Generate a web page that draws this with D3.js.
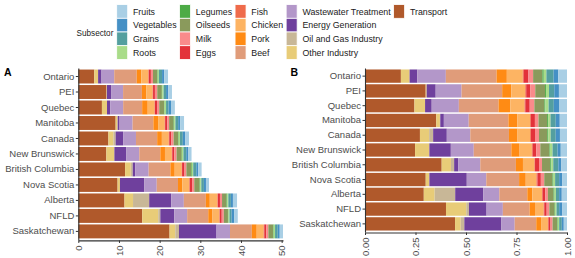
<!DOCTYPE html>
<html lang="en">
<head>
<meta charset="UTF-8">
<title>Emissions by subsector and province</title>
<style>
  body { margin: 0; padding: 0; background: #fff; }
  svg text { font-family: "Liberation Sans", Arial, sans-serif; }
</style>
</head>
<body>
<div id="chart"></div>
<script src="https://d3js.org/d3.v7.min.js"></script>
<script>
// provinces, top to bottom (sorted by total)
const provinces = ["Ontario", "PEI", "Quebec", "Manitoba", "Canada", "New Brunswick",
  "British Columbia", "Nova Scotia", "Alberta", "NFLD", "Saskatchewan"];

// one value per province, same order as above
const transport   = [3.92, 6.92, 5.81, 9.18, 7.40, 6.90, 11.51, 9.66, 11.36, 15.72, 22.44];
const otherInd    = [0.95, 0.11, 1.25, 0.46, 1.24, 1.97, 1.39, 0.58, 2.10, 3.94, 1.41];
const oilGas      = [0.00, 0.00, 0.00, 0.05, 0.54, 0.00, 0.48, 0.00, 3.97, 0.51, 0.90];
const energyGen   = [0.84, 1.03, 0.78, 0.46, 1.84, 2.96, 0.60, 5.95, 5.41, 3.43, 9.24];
const wastewater  = [3.12, 2.95, 3.19, 3.20, 3.16, 3.16, 3.32, 3.10, 3.11, 3.16, 3.31];
const beef        = [5.54, 4.63, 4.67, 5.11, 5.21, 5.18, 5.35, 5.22, 5.41, 5.19, 5.37];
const pork        = [1.12, 1.05, 1.37, 1.16, 1.16, 1.14, 1.06, 1.06, 0.97, 1.05, 1.20];
const chicken     = [1.74, 1.58, 1.68, 1.63, 1.70, 1.69, 1.72, 1.70, 1.87, 1.68, 1.71];
const fish        = [0.11, 0.11, 0.09, 0.10, 0.11, 0.11, 0.09, 0.16, 0.12, 0.12, 0.15];
const eggs        = [0.51, 0.46, 0.52, 0.52, 0.54, 0.50, 0.60, 0.54, 0.51, 0.47, 0.50];
const milk        = [0.51, 0.57, 0.54, 0.46, 0.54, 0.55, 0.45, 0.54, 0.51, 0.51, 0.50];
const oilseeds    = [1.01, 1.12, 1.18, 1.11, 1.11, 1.25, 1.24, 1.31, 1.09, 1.01, 1.15];
const legumes     = [0.15, 0.11, 0.12, 0.13, 0.14, 0.08, 0.15, 0.16, 0.19, 0.12, 0.15];
const roots       = [0.29, 0.34, 0.38, 0.31, 0.32, 0.36, 0.30, 0.26, 0.27, 0.27, 0.35];
const grains      = [0.79, 0.60, 0.61, 0.67, 0.68, 0.69, 0.76, 0.64, 0.62, 0.51, 0.65];
const vegetables  = [0.51, 0.53, 0.61, 0.52, 0.57, 0.44, 0.45, 0.51, 0.51, 0.62, 0.50];
const fruits      = [0.95, 0.92, 0.94, 0.93, 0.95, 0.86, 0.85, 0.74, 1.01, 0.90, 0.80];

// stacking order, left to right
const series = [
  ["Transport", transport], ["Other Industry", otherInd], ["Oil and Gas Industry", oilGas],
  ["Energy Generation", energyGen], ["Wastewater Treatment", wastewater], ["Beef", beef],
  ["Pork", pork], ["Chicken", chicken], ["Fish", fish], ["Eggs", eggs], ["Milk", milk],
  ["Oilseeds", oilseeds], ["Legumes", legumes], ["Roots", roots], ["Grains", grains],
  ["Vegetables", vegetables], ["Fruits", fruits]
];

const colors = {
  "Fruits": "#a9cfe5", "Vegetables": "#4590c5", "Grains": "#549f9f", "Roots": "#a9dc89",
  "Legumes": "#4dab46", "Oilseeds": "#8a9a5c", "Milk": "#f98b8b", "Eggs": "#e3323a",
  "Fish": "#ef6b4b", "Chicken": "#fdb463", "Pork": "#ff8b14", "Beef": "#e09c7a",
  "Wastewater Treatment": "#b397c9", "Energy Generation": "#6f409d",
  "Oil and Gas Industry": "#c8b797", "Other Industry": "#e8cc78", "Transport": "#b0592b"
};

// legend columns as in the figure
const legendCols = [
  ["Fruits", "Vegetables", "Grains", "Roots"],
  ["Legumes", "Oilseeds", "Milk", "Eggs"],
  ["Fish", "Chicken", "Pork", "Beef"],
  ["Wastewater Treatment", "Energy Generation", "Oil and Gas Industry", "Other Industry"],
  ["Transport"]
];

const ticksA = [0, 10, 20, 30, 40, 50];
const ticksB = [0, 0.25, 0.5, 0.75, 1];

const width = 575, height = 258;
const keys = series.map(s => s[0]);
const table = provinces.map((p, i) => {
  const row = { province: p };
  series.forEach(([k, v]) => row[k] = v[i]);
  return row;
});

const svg = d3.select('#chart').append('svg')
  .attr('width', width)
  .attr('height', height);

// ---- legend ----
const legend = svg.append('g');
legend.append('text')
  .attr('x', 76.5).attr('y', 36)
  .attr('font-size', '8.2px')
  .attr('fill', '#1a1a1a')
  .text('Subsector');

const keyW = 11, keyH = 13.7, keyTop = 4.6;
let colX = 116.7;
legendCols.forEach(col => {
  const cg = legend.append('g').attr('transform', `translate(${colX},${keyTop})`);
  let maxW = 0;
  col.forEach((name, r) => {
    cg.append('rect')
      .attr('x', 0).attr('y', r * keyH)
      .attr('width', keyW).attr('height', keyH)
      .attr('fill', colors[name])
      .attr('stroke', '#fff').attr('stroke-width', 0.8);
    const t = cg.append('text')
      .attr('x', keyW + 5.3).attr('y', r * keyH + keyH / 2)
      .attr('dy', '0.35em')
      .attr('font-size', '8.8px')
      .attr('fill', '#1a1a1a')
      .text(name);
    maxW = Math.max(maxW, t.node().getComputedTextLength());
  });
  colX += keyW + 5.3 + maxW + 3;
});

// ---- panels ----
function textWidth(str, size) {
  const t = svg.append('text').attr('font-size', size).text(str);
  const w = t.node().getComputedTextLength();
  t.remove();
  return w;
}

function drawPanel(opts) {
  const labelW = d3.max(opts.ticks, v => textWidth(opts.fmt(v), '9.5px'));
  const bottom = height - 2 - labelW - 5.5;   // rotated labels push the plot up
  const top = 68;

  const stack = d3.stack().keys(keys);
  if (opts.expand) stack.offset(d3.stackOffsetExpand);
  const layers = stack(table);

  const x = d3.scaleLinear()
    .domain([0, opts.expand ? 1 : d3.max(layers[layers.length - 1], d => d[1])])
    .range([opts.left, opts.right]);
  const y = d3.scaleBand()
    .domain(provinces)
    .range([top, bottom])
    .paddingInner(0.1)
    .paddingOuter(0.1);

  const g = svg.append('g');

  g.selectAll('g.layer')
    .data(layers)
    .join('g')
    .attr('class', 'layer')
    .attr('fill', d => colors[d.key])
    .selectAll('rect')
    .data(d => d)
    .join('rect')
    .attr('x', d => x(d[0]))
    .attr('y', d => y(d.data.province))
    .attr('width', d => Math.max(0, x(d[1]) - x(d[0])))
    .attr('height', y.bandwidth());

  // y axis
  const yAxis = g.append('g')
    .attr('transform', `translate(${opts.left},0)`)
    .call(d3.axisLeft(y).tickSize(2.5).tickSizeOuter(0).tickPadding(1.5));
  yAxis.select('.domain').attr('stroke', '#333').attr('stroke-width', 1.1);
  yAxis.selectAll('.tick line').attr('stroke', '#333');
  yAxis.selectAll('.tick text')
    .attr('font-size', '9.5px')
    .attr('font-family', '"Liberation Sans", Arial, sans-serif')
    .attr('fill', '#4d4d4d');

  // x axis, labels rotated
  const xAxis = g.append('g')
    .attr('transform', `translate(0,${bottom + 0.5})`)
    .call(d3.axisBottom(x).tickValues(opts.ticks).tickFormat(opts.fmt)
      .tickSize(2.5).tickSizeOuter(0));
  xAxis.select('.domain').attr('stroke', '#333').attr('stroke-width', 1.1);
  xAxis.selectAll('.tick line').attr('stroke', '#333');
  xAxis.selectAll('.tick text')
    .attr('font-size', '9.5px')
    .attr('font-family', '"Liberation Sans", Arial, sans-serif')
    .attr('fill', '#4d4d4d')
    .attr('transform', 'rotate(-90)')
    .attr('text-anchor', 'end')
    .attr('x', -5)
    .attr('y', 0)
    .attr('dy', '0.35em');

  svg.append('text')
    .attr('x', opts.tagX).attr('y', 76)
    .attr('font-size', '10.5px')
    .attr('font-weight', 'bold')
    .attr('fill', '#000')
    .text(opts.tag);
}

drawPanel({ tag: 'A', tagX: 4, left: 78.3, right: 283, ticks: ticksA,
  fmt: d3.format('d'), expand: false });
drawPanel({ tag: 'B', tagX: 290.5, left: 365, right: 567, ticks: ticksB,
  fmt: d3.format('.2f'), expand: true });
</script>
</body>
</html>
